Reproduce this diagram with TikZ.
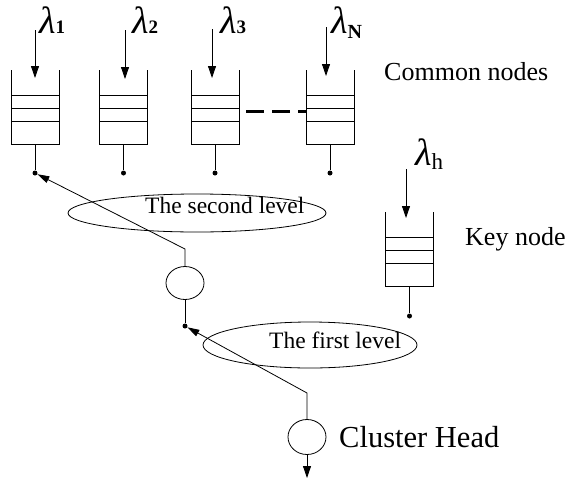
\documentclass[tikz,border=0pt]{standalone}
\usepackage{fontspec}
\setmainfont{Liberation Serif}
\usetikzlibrary{arrows.meta,shapes.geometric}

% arrival-rate label: lambda with a subscript
\newcommand\ratelabel[3]{{\fontsize{38}{38}\selectfont\itshape λ}\raisebox{-#3}{\fontsize{#2}{#2}\selectfont #1}}

\tikzset{
  qline/.style={line width=0.9pt},
  wire/.style={line width=0.8pt},
  dot/.style={circle,fill,inner sep=0pt,minimum size=5pt},
  relay/.style={ellipse,draw,line width=0.8pt,inner sep=0pt,minimum width=38pt,minimum height=33pt},
  levelring/.style={ellipse,draw,line width=0.8pt,inner sep=0pt},
  inflow/.style={wire,-{Triangle[length=12pt,width=8pt]}},
  hop/.style={wire,-{Triangle[length=12pt,width=7pt]}},
  lbl/.style={anchor=base west,inner sep=0pt},
  queue/.pic={
    \draw[qline] (-24,0) -- (-24,74) -- (24,74) -- (24,0);
    \draw[qline] (-24,25) -- (24,25) (-24,38) -- (24,38) (-24,51) -- (24,51);
    \coordinate (-east) at (24,41.7);
    \coordinate (-west) at (-24,41.7);
  }
}

\begin{document}
\begin{tikzpicture}[x=1pt,y=-1pt]
\useasboundingbox (0,0) rectangle (569,479);

% common nodes
\pic (q1) at (35,70) {queue};
\pic (q2) at (123.5,70) {queue};
\pic (q3) at (215,70) {queue};
\pic (qN) at (330,70) {queue};
% key node
\pic (qk) at (409.5,212) {queue};

% output taps of the queues
\node[dot] (d1) at (35,173) {};
\node[dot] (d2) at (123.5,173) {};
\node[dot] (d3) at (215,173) {};
\node[dot] (dN) at (330,173) {};
\node[dot] (dk) at (409.5,316) {};
\draw[wire] (35,144) -- (d1);
\draw[wire] (123.5,144) -- (d2);
\draw[wire] (215,144) -- (d3);
\draw[wire] (330,144) -- (dN);
\draw[wire] (409.5,286) -- (dk);

% arrivals
\coordinate (a1) at (35,30);   \coordinate (b1) at (35,78);
\coordinate (a2) at (125,30);  \coordinate (b2) at (125,79);
\coordinate (a3) at (212,29);  \coordinate (b3) at (212,78);
\coordinate (aN) at (326,27);  \coordinate (bN) at (326,76);
\coordinate (ak) at (406,169); \coordinate (bk) at (406,218);
\draw[inflow] (a1) -- (b1);
\draw[inflow] (a2) -- (b2);
\draw[inflow] (a3) -- (b3);
\draw[inflow] (aN) -- (bN);
\draw[inflow] (ak) -- (bk);

\node[lbl] (l1) at (39,33) {\ratelabel{\bfseries 1}{19}{0pt}};
\node[lbl] (l2) at (132,33) {\ratelabel{\bfseries 2}{19}{0pt}};
\node[lbl] (l3) at (220,33) {\ratelabel{\bfseries 3}{19}{0pt}};
\node[lbl] (lN) at (331,33) {\ratelabel{\bfseries N}{20}{5pt}};
\node[lbl] (lk) at (415,165) {\ratelabel{h}{23}{4pt}};

% more queues in between
\draw[line width=3pt,dash pattern=on 18pt off 8pt,shorten <=7pt] (q3-east) -- (qN-west);

\node[lbl,font=\fontsize{26}{26}\selectfont] (common) at (384,80) {Common nodes};
\node[lbl,font=\fontsize{26}{26}\selectfont] (key) at (465,245) {Key node};

% relay between the two levels
\node[relay] (r) at (185,283) {};
\node[dot] (dr) at (185,326) {};
\draw[wire] (r.south) -- (dr);
\coordinate (rk) at (185,249);
\draw[hop] (r.north) -- (rk) -- (d1);

% cluster head
\node[relay,minimum height=35pt] (ch) at (307,437) {};
\coordinate (ck) at (307,393);
\draw[hop] (ch.north) -- (ck) -- (dr);
\coordinate (sink) at (307,478);
\draw[inflow] (ch.south) -- (sink);
\node[lbl,font=\fontsize{30.5}{30.5}\selectfont] (chl) at (339,447) {Cluster Head};

% level rings
\node[levelring,minimum width=258pt,minimum height=38pt] (lv2) at (197,213) {};
\node[lbl,font=\fontsize{23.5}{23.5}\selectfont] (lv2t) at (145,213) {The second level};
\node[levelring,minimum width=214pt,minimum height=46pt] (lv1) at (310,345) {};
\node[lbl,font=\fontsize{23.5}{23.5}\selectfont] (lv1t) at (269,348) {The first level};
\end{tikzpicture}
\end{document}
